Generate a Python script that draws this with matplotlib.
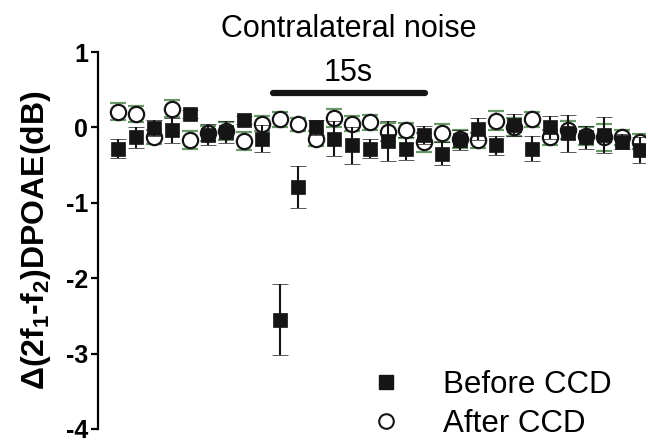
import matplotlib
matplotlib.use("Agg")
import matplotlib.pyplot as plt
from matplotlib.lines import Line2D
import numpy as np

plt.rcParams['font.family'] = ['Liberation Sans', 'DejaVu Sans']
plt.rcParams['mathtext.fontset'] = 'custom'
plt.rcParams['mathtext.rm'] = 'Liberation Sans:bold'
plt.rcParams['mathtext.bf'] = 'Liberation Sans:bold'
plt.rcParams['mathtext.default'] = 'bf'

# ---- data ----
time_points = list(range(1, 31))
before_ccd = [-0.28, -0.13, -0.01, -0.04, 0.18, -0.10, -0.06, 0.10, -0.15, -2.55,
              -0.79, 0.00, -0.15, -0.24, -0.28, -0.18, -0.28, -0.10, -0.35, -0.17,
              -0.02, -0.24, 0.03, -0.28, 0.00, -0.08, -0.13, -0.10, -0.19, -0.30]
before_sem = [0.13, 0.14, 0.11, 0.17, 0.05, 0.14, 0.15, 0.05, 0.18, 0.47,
              0.28, 0.10, 0.23, 0.24, 0.12, 0.27, 0.15, 0.12, 0.15, 0.13,
              0.15, 0.13, 0.15, 0.16, 0.15, 0.25, 0.15, 0.24, 0.10, 0.17]
after_ccd = [0.21, 0.18, -0.13, 0.25, -0.17, -0.08, -0.05, -0.18, 0.05, 0.11,
             0.04, -0.15, 0.12, 0.05, 0.07, -0.06, -0.04, -0.20, -0.08, -0.15,
             -0.17, 0.09, 0.00, 0.11, -0.13, -0.04, -0.12, -0.13, -0.13, -0.19]
after_sem = [0.11, 0.11, 0.09, 0.11, 0.12, 0.10, 0.12, 0.12, 0.10, 0.10,
             0.09, 0.10, 0.12, 0.10, 0.10, 0.12, 0.10, 0.12, 0.12, 0.12,
             0.10, 0.13, 0.12, 0.10, 0.10, 0.12, 0.12, 0.18, 0.10, 0.10]
yticks = [1, 0, -1, -2, -3, -4]
noise_start, noise_end = 9.6, 18.05
noise_label = "15s"
title = "Contralateral noise"
labels = ["Before CCD", "After CCD"]

green = '#6a9a6a'
black = '#151515'

fig = plt.figure(figsize=(6.49, 4.43), dpi=100)
ax = fig.add_axes([98/649, 1 - 429/443, (645 - 98)/649, (429 - 52)/443])

ax.errorbar(time_points, after_ccd, yerr=after_sem, fmt='o', ms=11,
            mfc='white', mec=black, mew=1.6, ecolor=green, elinewidth=1.3,
            capsize=6, capthick=1.3, zorder=2)
ax.errorbar(time_points, before_ccd, yerr=before_sem, fmt='s', ms=10.5,
            mfc=black, mec=black, mew=0.5, ecolor=black, elinewidth=1.5,
            capsize=6, capthick=1.5, zorder=3)

ax.set_ylim(-4, 1)
ax.set_xlim(-0.11, 30.3)
ax.set_yticks(yticks)
ax.set_yticklabels([str(t) for t in yticks], fontsize=18, fontweight='bold')
ax.set_xticks([])
for s in ['top', 'right', 'bottom']:
    ax.spines[s].set_visible(False)
ax.spines['left'].set_linewidth(1.6)
ax.tick_params(axis='y', direction='out', length=5, width=1.6, pad=2)
ax.set_ylabel(r'Δ(2f$_1$-f$_2$)DPOAE(dB)', fontsize=23, fontweight='bold', labelpad=9)

# noise bar and labels
ax.plot([noise_start, noise_end], [0.45, 0.45], color=black, lw=4.5,
        solid_capstyle='round', clip_on=False)
xc = (noise_start + noise_end) / 2
ax.text(xc, 0.72, noise_label, ha='center', va='center', fontsize=22, clip_on=False)
ax.text(xc, 1.30, title, ha='center', va='center', fontsize=22, clip_on=False)

handles = [Line2D([], [], marker='s', ls='none', ms=10, mfc=black, mec=black),
           Line2D([], [], marker='o', ls='none', ms=10.5, mfc='white', mec=black, mew=1.5)]
ax.legend(handles, labels, loc='lower left', bbox_to_anchor=(0.475, -0.06),
          frameon=False, fontsize=22.5, handlelength=1.0, handletextpad=1.32,
          labelspacing=0.28, borderaxespad=0)

fig.savefig('out.png', dpi=100)
